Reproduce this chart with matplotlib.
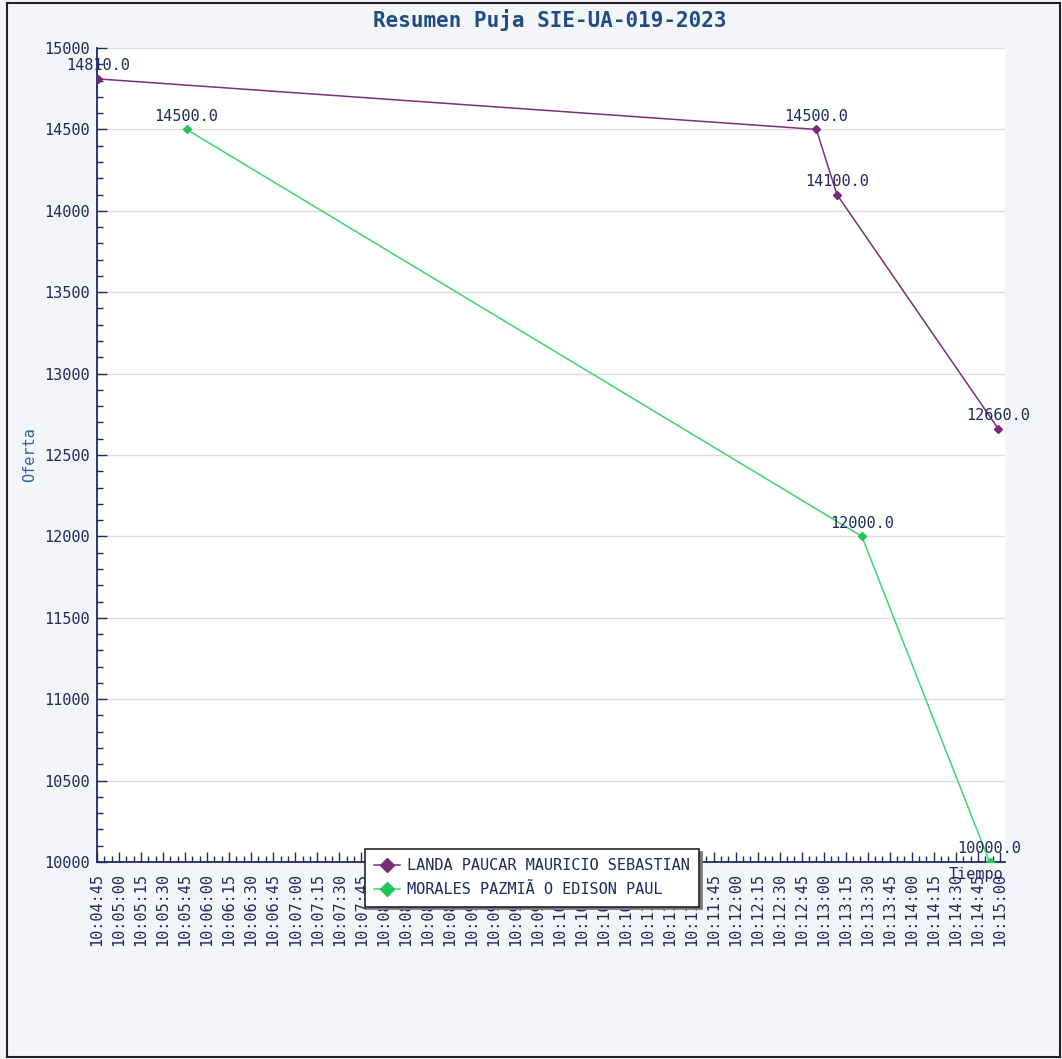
import numpy as np
import matplotlib
matplotlib.use("Agg")
import matplotlib.pyplot as plt
from matplotlib.patches import Rectangle
from matplotlib.ticker import MultipleLocator, FixedLocator

# bid history (time of bid, offered value)
landa_times = ["10:04:46", "10:12:55", "10:13:09", "10:14:59"]
landa_values = [14810.0, 14500.0, 14100.0, 12660.0]
morales_times = ["10:05:46", "10:13:26", "10:14:53"]
morales_values = [14500.0, 12000.0, 10000.0]

series_names = ["LANDA PAUCAR MAURICIO SEBASTIAN", "MORALES PAZMIÃ O EDISON PAUL"]
title = "Resumen Puja SIE-UA-019-2023"

START = "10:04:45"
END = "10:15:00"


def to_sec(t):
    h, m, s = [int(v) for v in t.split(":")]
    return h * 3600 + m * 60 + s


t0 = to_sec(START)
t1 = to_sec(END)
tick_secs = list(range(0, t1 - t0 + 1, 15))
tick_labels = []
for s in tick_secs:
    tt = t0 + s
    tick_labels.append(f"{tt // 3600:02d}:{(tt % 3600) // 60:02d}:{tt % 60:02d}")

W, H = 1062, 1059
fig = plt.figure(figsize=(W / 100, H / 100), dpi=100)
fig.patch.set_facecolor("#f4f5f9")
plt.rcParams["font.family"] = ["DejaVu Sans Mono"]

# outer frame
fig.patches.append(Rectangle((7 / W, 1 - 1057 / H), (1060 - 7) / W, (1057 - 3) / H,
                             transform=fig.transFigure, fill=False,
                             edgecolor="#222222", linewidth=1.5))

ax = fig.add_axes([97 / W, 1 - 862 / H, (1005 - 97) / W, (862 - 48) / H])
ax.set_facecolor("white")

NAVY = "#1c2a5c"
purple = "#7d2d7d"
green = "#3dd66a"

lx = [to_sec(t) - t0 for t in landa_times]
mx = [to_sec(t) - t0 for t in morales_times]

ax.plot(lx, landa_values, color=purple, linewidth=1.1, marker="D", markersize=4,
        markerfacecolor="#7a2a78", markeredgecolor="#7a2a78", label=series_names[0], zorder=3)
ax.plot(mx, morales_values, color=green, linewidth=1.1, marker="D", markersize=4,
        markerfacecolor="#22c458", markeredgecolor="#22c458", label=series_names[1], zorder=3)

for x, y in zip(lx, landa_values):
    ax.annotate(f"{y:.1f}", (x, y), xytext=(0, 4), textcoords="offset points",
                ha="center", va="bottom", fontsize=11, color=NAVY, annotation_clip=False, zorder=4)
for x, y in zip(mx, morales_values):
    ax.annotate(f"{y:.1f}", (x, y), xytext=(0, 4), textcoords="offset points",
                ha="center", va="bottom", fontsize=11, color=NAVY, annotation_clip=False, zorder=4)

ax.set_xlim(0, 618.5)
ax.set_ylim(10000, 15000)

ax.xaxis.set_major_locator(FixedLocator(tick_secs))
ax.set_xticks(tick_secs)
ax.set_xticklabels(tick_labels, rotation=90, fontsize=11, color=NAVY)
ax.xaxis.set_minor_locator(MultipleLocator(5))
ax.yaxis.set_major_locator(MultipleLocator(500))
ax.yaxis.set_minor_locator(MultipleLocator(100))
for lab in ax.get_yticklabels():
    lab.set_fontsize(11)
    lab.set_color(NAVY)

ax.tick_params(axis="both", which="major", direction="in", length=7, width=1, color=NAVY, pad=5)
ax.tick_params(axis="both", which="minor", direction="in", length=4, width=1, color=NAVY)
ax.tick_params(axis="x", which="major", pad=8)

ax.grid(True, axis="y", which="major", color="#dddddd", linewidth=1)
ax.set_axisbelow(True)

for side in ["top", "right"]:
    ax.spines[side].set_visible(False)
for side in ["left", "bottom"]:
    ax.spines[side].set_color(NAVY)
    ax.spines[side].set_linewidth(1.3)

fig.text(550 / W, 1 - 20 / H, title, ha="center", va="center", fontsize=15,
         fontweight="semibold", color="#1e4b86")
fig.text(30 / W, 1 - 455 / H, "Oferta", rotation=90, ha="center", va="center",
         fontsize=11, color="#2a63a8")
fig.text(976 / W, 1 - 874 / H, "Tiempo", ha="center", va="center",
         fontsize=11, color=NAVY)

leg = ax.legend(loc="upper left", bbox_to_anchor=(365 / W, 1 - 849 / H),
                bbox_transform=fig.transFigure, fontsize=11, frameon=True,
                fancybox=False, framealpha=1, edgecolor="#222222",
                borderpad=0.6, labelspacing=0.6, handlelength=1.7,
                handletextpad=0.45, borderaxespad=0, markerscale=1.7,
                shadow={"color": "#777777", "alpha": 1})
for txt in leg.get_texts():
    txt.set_color(NAVY)
leg.get_frame().set_linewidth(1.2)
leg.set_zorder(10)

fig.savefig("out.png", dpi=100, facecolor=fig.get_facecolor())
